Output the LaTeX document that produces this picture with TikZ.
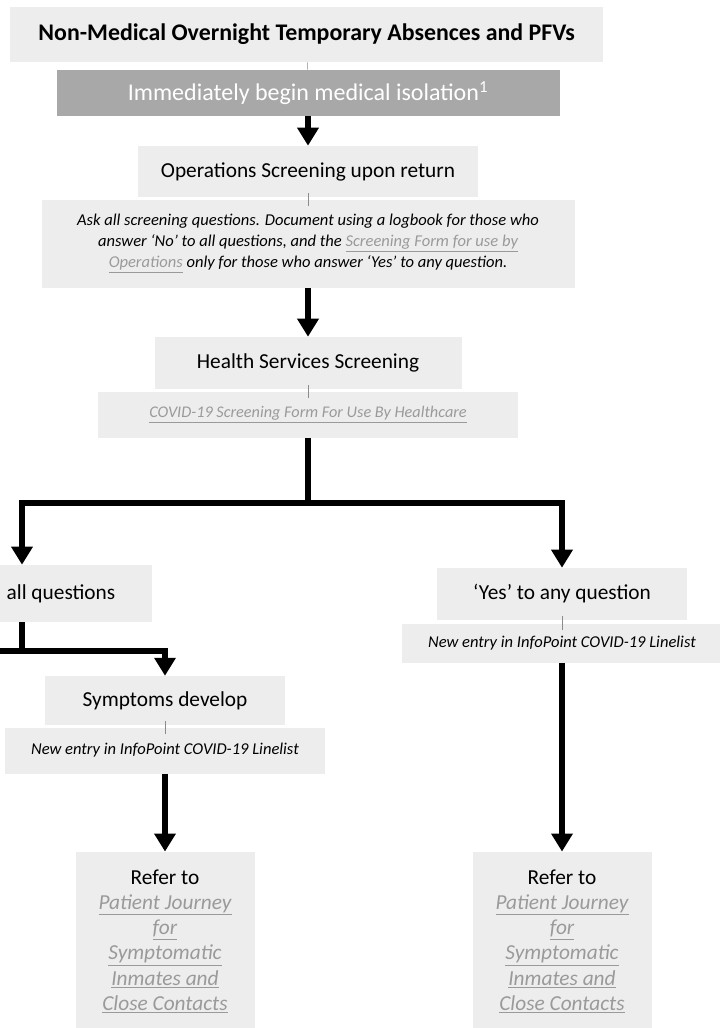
\documentclass[tikz,border=0pt]{standalone}
\usepackage{fontspec}
\setmainfont{Carlito}
\usepackage{xcolor}
\definecolor{cBox}{HTML}{EDEDED}
\definecolor{cDark}{HTML}{A8A8A8}
\definecolor{cLink}{HTML}{9A9A9A}
\definecolor{cThin}{HTML}{8C8C8C}
\usetikzlibrary{positioning,arrows.meta}
\newcommand{\doclink}[1]{\textcolor{cLink}{\underline{#1}}}
\tikzset{
  node-box/.style={fill=cBox,inner sep=2pt,align=center,
    font=\fontsize{16}{19}\selectfont},
  node-title/.style={node-box,font=\fontsize{17.9}{21}\selectfont\bfseries},
  node-dark/.style={node-box,fill=cDark,text=white,
    font=\fontsize{18}{21}\selectfont},
  node-note/.style={node-box,font=\fontsize{12.4}{15}\selectfont\itshape},
  node-refer/.style={node-box,minimum width=134.25pt,minimum height=134.25pt,
    font=\fontsize{16}{18.9}\selectfont},
  arrow/.style={-{Triangle[length=13.5pt,width=15.5pt]},line width=5pt},
  flow/.style={line width=5pt},
  tether/.style={draw=cThin,line width=0.4pt},
}

\begin{document}
\begin{tikzpicture}[x=1pt,y=-1pt]
  \useasboundingbox (0,0) rectangle (540,771);
  % centre column
  \node[node-title,minimum width=444.75pt,minimum height=41.25pt] (title) at (230,25.9)
    {Non-Medical Overnight Temporary Absences and PFVs};
  \node[node-dark,minimum width=377.25pt,minimum height=34.5pt] (isol) at (231,69.75)
    {Immediately begin medical isolation\textsuperscript{1}};
  \node[node-box,minimum width=255pt,minimum height=38.25pt] (ops) at (231,128.6)
    {Operations Screening upon return};
  \node[node-note,below=1.5pt of ops,minimum width=399.75pt,minimum height=66pt,
    font=\fontsize{12.4}{15.75}\selectfont\itshape] (ask)
    {Ask all screening questions. Document using a logbook for those who\\
     answer ‘No’ to all questions, and the \doclink{Screening Form for use by}\\
     \doclink{Operations} only for those who answer ‘Yes’ to any question.};
  \node[node-box,minimum width=230.25pt,minimum height=39pt] (health) at (231,272.25)
    {Health Services Screening};
  \node[node-note,below=1.5pt of health,minimum width=315pt,minimum height=34.5pt,
    font=\fontsize{12.2}{15}\selectfont\itshape] (covid)
    {\doclink{COVID-19 Screening Form For Use By Healthcare}};
  % left branch
  \node[node-box,minimum width=136.5pt,minimum height=42.75pt] (allq) at (45.75,445.1)
    {all questions};
  \node[node-box,minimum width=180pt,minimum height=36.75pt] (symp) at (123.75,525.4)
    {Symptoms develop};
  \node[node-note,below=1.5pt of symp,minimum width=240pt,minimum height=34.5pt] (entryL)
    {New entry in InfoPoint COVID-19 Linelist};
  \node[node-refer] (referL) at (123.75,706)
    {Refer to\\ \textit{\doclink{Patient Journey}}\\ \textit{\doclink{for}}\\
     \textit{\doclink{Symptomatic}}\\ \textit{\doclink{Inmates and}}\\
     \textit{\doclink{Close Contacts}}};
  % right branch
  \node[node-box,minimum width=187.5pt,minimum height=39pt] (yes) at (421.5,445.5)
    {‘Yes’ to any question};
  \node[node-note,below=2.25pt of yes,minimum width=240pt,minimum height=29.25pt] (entryR)
    {New entry in InfoPoint COVID-19 Linelist};
  \node[node-refer] (referR) at (421.5,706)
    {Refer to\\ \textit{\doclink{Patient Journey}}\\ \textit{\doclink{for}}\\
     \textit{\doclink{Symptomatic}}\\ \textit{\doclink{Inmates and}}\\
     \textit{\doclink{Close Contacts}}};

  \coordinate (split) at (231,377.25);
  \coordinate (noTop) at (16.5,0 |- allq.north);
  \coordinate (noBot) at (allq.south -| noTop);
  \coordinate (split2) at (16.5,488.25);
  \coordinate (offL) at (0,488.25);

  \draw[tether] (title) -- (isol);
  \draw[tether] ([yshift=3pt]ops.south) -- ([yshift=-5pt]ask.north);
  \draw[tether] ([yshift=3pt]health.south) -- ([yshift=-5pt]covid.north);
  \draw[tether] ([yshift=3pt]yes.south) -- ([yshift=-5pt]entryR.north);
  \draw[tether] ([yshift=3pt]symp.south) -- ([yshift=-5pt]entryL.north);

  \draw[arrow] (isol) -- (ops);
  \draw[arrow] (ask) -- (health);
  \draw[flow] (covid) -- (split);
  \draw[arrow] (split) -| (noTop);
  \draw[arrow] (split) -| (yes);
  \draw[flow] (noBot) -- (split2) -- (offL);
  \draw[arrow] (split2) -| (symp);
  \draw[arrow] (entryL) -- (referL);
  \draw[arrow] (entryR) -- (referR);
\end{tikzpicture}
\end{document}
